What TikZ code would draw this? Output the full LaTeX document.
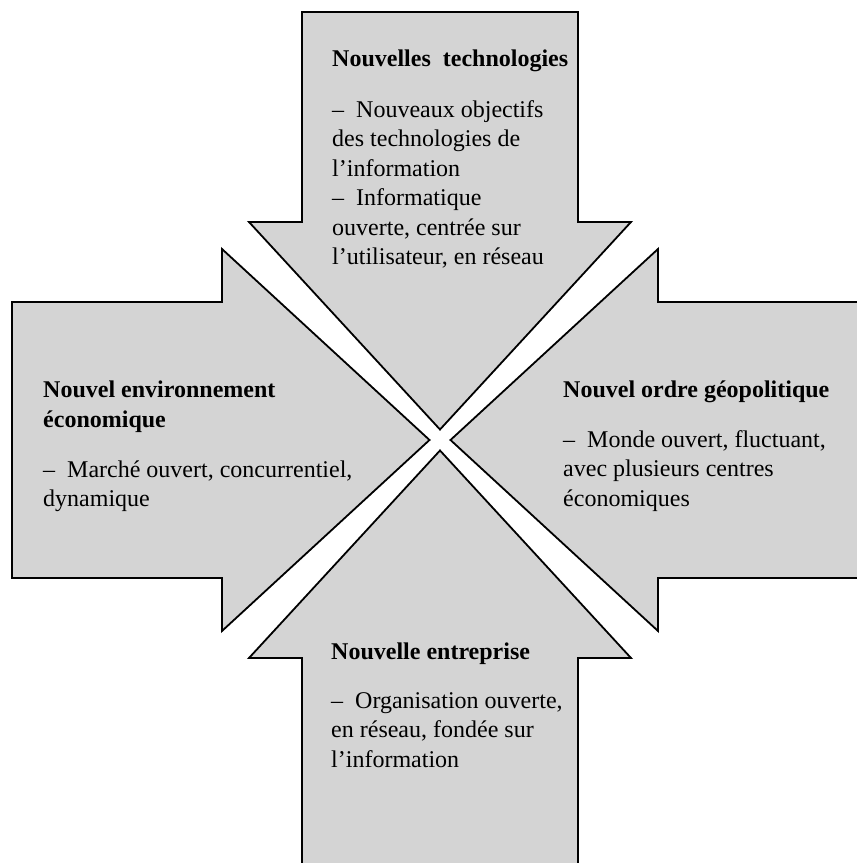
\documentclass[tikz,border=0pt]{standalone}
\usepackage{fontspec}
\setmainfont{Liberation Serif}
\usetikzlibrary{positioning}
\definecolor{scangray}{gray}{0.83}
\tikzset{
  bigarr/.style={draw=black,line width=1.8pt,fill=scangray,line join=miter},
  head/.style={anchor=base west,inner sep=0pt,align=left,
               font=\fontsize{24}{29.5}\selectfont\bfseries},
  body/.style={inner sep=0pt,align=left,font=\fontsize{24}{29.5}\selectfont}
}
\begin{document}
\begin{tikzpicture}[x=1pt,y=1pt]
  \clip (-440,-423) rectangle (417,440);
  % four arrows pointing to the middle
  \foreach \ang in {0,90,180,270}
    \draw[bigarr,rotate=\ang] (-428,138) -- (-218,138) -- (-218,191) -- (-10.5,0)
      -- (-218,-191) -- (-218,-138) -- (-428,-138) -- cycle;
  \node[head] (techHead) at (-108,373) {Nouvelles~ technologies};
  \node[body,below=33pt of techHead.base west,anchor=north west] (techBody)
    {--~ Nouveaux objectifs\\des technologies de\\l'information\\--~ Informatique\\ouverte, centrée sur\\l'utilisateur, en réseau};
  % base of a two-line node is its last line
  \node[head] (ecoHead) at (-397,13) {Nouvel environnement\\économique};
  \node[body,below=28pt of ecoHead.south west,anchor=north west] (ecoBody)
    {--~ Marché ouvert, concurrentiel,\\dynamique};
  \node[head] (geoHead) at (123,43) {Nouvel ordre géopolitique};
  \node[body,below=33pt of geoHead.base west,anchor=north west] (geoBody)
    {--~ Monde ouvert, fluctuant,\\avec plusieurs centres\\économiques};
  \node[head] (entHead) at (-109,-219) {Nouvelle entreprise};
  \node[body,below=33pt of entHead.base west,anchor=north west] (entBody)
    {--~ Organisation ouverte,\\en réseau, fondée sur\\l'information};
\end{tikzpicture}
\end{document}
